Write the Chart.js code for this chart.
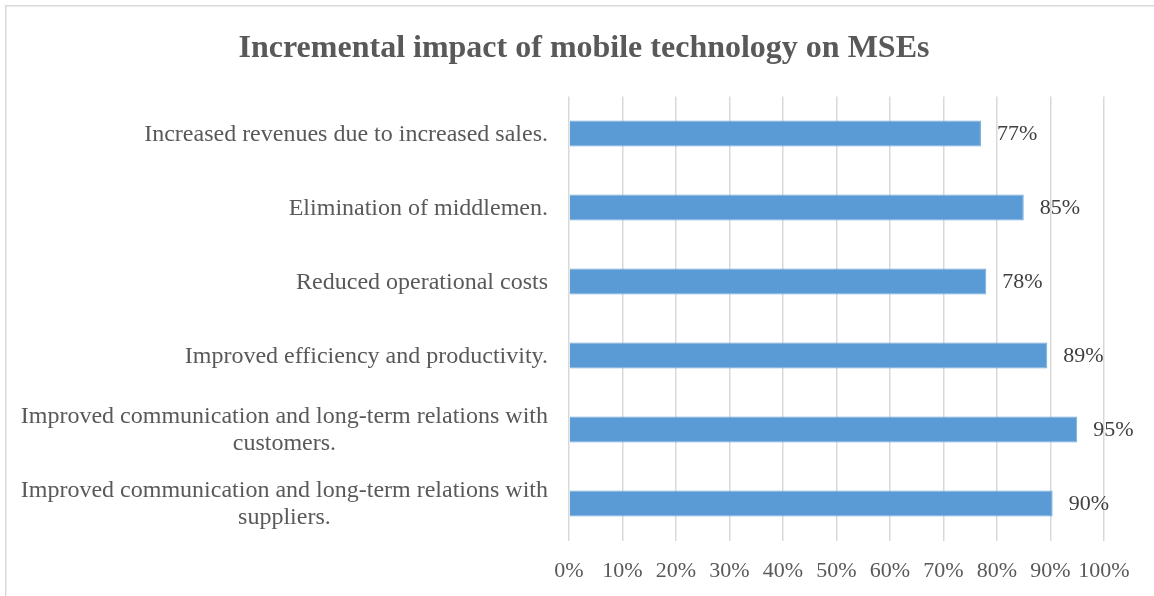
<!DOCTYPE html>
<html>
<head>
<meta charset="utf-8">
<script src="https://cdn.jsdelivr.net/npm/chart.js@4/dist/chart.umd.min.js"></script>
<style>
  body { margin: 0; background: #fff; }
  #wrap { width: 1154px; height: 596px; }
</style>
</head>
<body>
<div id="wrap"><canvas id="myChart" width="1154" height="596"></canvas></div>
<script>
const categories = [
    'Increased revenues due to increased sales.',
    'Elimination of middlemen.',
    'Reduced operational costs',
    'Improved efficiency and productivity.',
    ['Improved communication and long-term relations with', 'customers.'],
    ['Improved communication and long-term relations with', 'suppliers.']
];
const impactValues = [77, 85, 78, 89.4, 95, 90.4];
const tickValues = [0, 10, 20, 30, 40, 50, 60, 70, 80, 90, 100];

const serif = '"Liberation Serif", "Times New Roman", serif';

// frame round the whole chart
const framePlugin = {
    id: 'frame',
    beforeDraw(chart) {
        const c = chart.ctx;
        c.save();
        c.fillStyle = '#fff';
        c.fillRect(0, 0, chart.width, chart.height);
        c.strokeStyle = '#d9d9d9';
        c.lineWidth = 1.5;
        c.strokeRect(5.75, 5.75, chart.width + 20, chart.height + 20);
        c.restore();
    }
};

// category labels: block right aligned, lines centred inside the block
const catLabels = {
    id: 'catLabels',
    afterDraw(chart) {
        const c = chart.ctx;
        const y = chart.scales.y;
        c.save();
        c.font = '24px ' + serif;
        c.fillStyle = '#595959';
        c.textAlign = 'center';
        c.textBaseline = 'middle';
        categories.forEach((lab, i) => {
            const lines = Array.isArray(lab) ? lab : [lab];
            const w = Math.max(...lines.map(l => c.measureText(l).width));
            const cx = 548 - w / 2;
            const cy = y.getPixelForTick(i);
            const lh = 27;
            lines.forEach((l, j) => {
                c.fillText(l, cx, cy + 1 + (j - (lines.length - 1) / 2) * lh);
            });
        });
        c.restore();
    }
};

// value labels after the bars
const valueLabels = {
    id: 'valueLabels',
    afterDatasetsDraw(chart) {
        const c = chart.ctx;
        const meta = chart.getDatasetMeta(0);
        c.save();
        c.font = '22px ' + serif;
        c.fillStyle = '#404040';
        c.textAlign = 'left';
        c.textBaseline = 'middle';
        meta.data.forEach((bar, i) => {
            c.fillText(Math.round(impactValues[i]) + '%', bar.x + 16, bar.y + 1);
        });
        c.restore();
    }
};

const ctx = document.getElementById('myChart');
const myChart = new Chart(ctx, {
    type: 'bar',
    data: {
        labels: categories,
        datasets: [{
            data: impactValues,
            backgroundColor: '#5b9bd5',
            borderColor: '#74abdc',
            borderWidth: 1,
            barPercentage: 0.352,
            categoryPercentage: 1
        }]
    },
    options: {
        indexAxis: 'y',
        responsive: false,
        animation: false,
        layout: { padding: { left: 64, right: 50, top: 0, bottom: 0 } },
        plugins: {
            legend: { display: false },
            tooltip: { enabled: false },
            title: {
                display: true,
                text: 'Incremental impact of mobile technology on MSEs',
                color: '#595959',
                font: { family: serif, size: 32, weight: 'bold', lineHeight: 1.2 },
                padding: { top: 30, bottom: 28.1 }
            }
        },
        scales: {
            x: {
                min: 0,
                max: 100,
                afterBuildTicks(scale) {
                    scale.ticks = tickValues.map(v => ({ value: v }));
                },
                afterFit(scale) { scale.height = 55.5; },
                grid: { color: '#d9d9d9', lineWidth: 1.5, drawTicks: false },
                border: { display: false },
                ticks: {
                    color: '#595959',
                    font: { family: serif, size: 22 },
                    padding: 18,
                    maxRotation: 0,
                    autoSkip: false,
                    callback: v => v + '%'
                }
            },
            y: {
                afterFit(scale) { scale.width = 505; },
                grid: { display: false },
                border: { display: false },
                ticks: { display: false }
            }
        }
    },
    plugins: [framePlugin, catLabels, valueLabels]
});
</script>
</body>
</html>
